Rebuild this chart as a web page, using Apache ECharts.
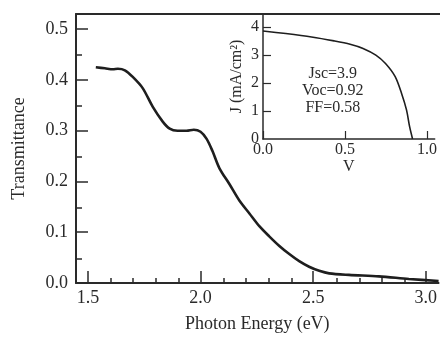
<!DOCTYPE html>
<html>
<head>
<meta charset="utf-8">
<script src="https://cdn.jsdelivr.net/npm/echarts@6/dist/echarts.min.js"></script>
<style>html,body{margin:0;padding:0;background:#fff}#c{width:440px;height:338px}</style>
</head>
<body>
<div id="c"></div>
<script>
// Main plot: transmittance vs photon energy
const energy = [1.535,1.575,1.611,1.633,1.664,1.699,1.743,1.788,1.832,1.863,1.898,1.938,1.970,2.000,2.027,2.053,2.084,2.128,2.173,2.217,2.261,2.305,2.350,2.394,2.438,2.482,2.527,2.571,2.659,2.792,2.925,3.057];
const transmittance = [0.425,0.423,0.421,0.422,0.419,0.406,0.384,0.347,0.318,0.304,0.300,0.300,0.302,0.298,0.284,0.260,0.226,0.195,0.162,0.137,0.112,0.092,0.073,0.057,0.043,0.032,0.024,0.019,0.016,0.013,0.008,0.004];
const xMajorTicks = [1.5, 2.0, 2.5, 3.0];
const xMinorTicks = [1.6,1.7,1.8,1.9,2.1,2.2,2.3,2.4,2.6,2.7,2.8,2.9];
const yMajorTicks = [0, 0.1, 0.2, 0.3, 0.4, 0.5];
const yMinorTicks = [0.05, 0.15, 0.25, 0.35, 0.45];

// Inset: J-V curve
const voltage = [0,0.139,0.296,0.433,0.531,0.61,0.688,0.747,0.806,0.845,0.875,0.894,0.912];
const current = [3.86,3.77,3.65,3.51,3.39,3.24,3.0,2.70,2.23,1.63,1.04,0.44,0];
const insetXTicks = [0, 0.5, 1.0];
const insetYLabels = [0, 1, 2, 3, 4];
const insetYTicks = [1, 2, 3, 4];
const insetNotes = ['Jsc=3.9', 'Voc=0.92', 'FF=0.58'];

const FONT = 'Liberation Serif, Times New Roman, serif';
const INK = '#2a2a2a';
const chart = echarts.init(document.getElementById('c'), null, {renderer: 'canvas'});

const mainRect = {left: 76, top: 14, right: 0, bottom: 54};
const insetRect = {left: 263, top: 14, right: 0, bottom: 199};

chart.setOption({
  animation: false,
  backgroundColor: '#fff',
  grid: [
    Object.assign({show: false}, mainRect),
    Object.assign({show: false}, mainRect),
    Object.assign({show: true, backgroundColor: '#fff', borderWidth: 0}, insetRect)
  ],
  xAxis: [
    {
      type: 'value', gridIndex: 0, min: 1.447, max: 3.057, position: 'bottom',
      splitLine: {show: false},
      axisLine: {lineStyle: {color: INK, width: 2}},
      axisTick: {inside: true, length: 12, customValues: xMajorTicks, lineStyle: {color: INK, width: 1.5}},
      axisLabel: {customValues: xMajorTicks, formatter: v => v.toFixed(1), color: INK, fontFamily: FONT, fontSize: 18, margin: 6},
      name: 'Photon Energy (eV)', nameLocation: 'middle', nameGap: 32,
      nameTextStyle: {color: INK, fontFamily: FONT, fontSize: 18}
    },
    {
      type: 'value', gridIndex: 1, min: 1.447, max: 3.057, position: 'bottom',
      splitLine: {show: false},
      axisLine: {show: false},
      axisTick: {inside: true, length: 6, customValues: xMinorTicks, lineStyle: {color: INK, width: 1.5}},
      axisLabel: {show: false}
    },
    {
      type: 'value', gridIndex: 1, min: 1.447, max: 3.057, position: 'top',
      splitLine: {show: false},
      axisLine: {lineStyle: {color: INK, width: 2}},
      axisTick: {show: false},
      axisLabel: {show: false}
    },
    {
      type: 'value', gridIndex: 2, min: 0, max: 1.047, position: 'bottom',
      splitLine: {show: false},
      axisLine: {lineStyle: {color: INK, width: 1.5}},
      axisTick: {inside: true, length: 8, customValues: insetXTicks, lineStyle: {color: INK, width: 1.2}},
      axisLabel: {customValues: insetXTicks, formatter: v => v.toFixed(1), color: INK, fontFamily: FONT, fontSize: 16, margin: 3},
      name: 'V', nameLocation: 'middle', nameGap: 20,
      nameTextStyle: {color: INK, fontFamily: FONT, fontSize: 16}
    }
  ],
  yAxis: [
    {
      type: 'value', gridIndex: 0, min: 0, max: 0.53,
      splitLine: {show: false},
      axisLine: {lineStyle: {color: INK, width: 2}},
      axisTick: {inside: true, length: 12, customValues: yMajorTicks, lineStyle: {color: INK, width: 1.5}},
      axisLabel: {customValues: yMajorTicks, formatter: v => v.toFixed(1), color: INK, fontFamily: FONT, fontSize: 18, margin: 8},
      name: 'Transmittance', nameLocation: 'middle', nameRotate: 90, nameGap: 48,
      nameTextStyle: {color: INK, fontFamily: FONT, fontSize: 18}
    },
    {
      type: 'value', gridIndex: 1, min: 0, max: 0.53,
      splitLine: {show: false},
      axisLine: {show: false},
      axisTick: {inside: true, length: 6, customValues: yMinorTicks, lineStyle: {color: INK, width: 1.5}},
      axisLabel: {show: false}
    },
    {
      type: 'value', gridIndex: 2, min: 0, max: 4.47,
      splitLine: {show: false},
      axisLine: {lineStyle: {color: INK, width: 1.5}},
      axisTick: {inside: true, length: 8, customValues: insetYTicks, lineStyle: {color: INK, width: 1.2}},
      axisLabel: {customValues: insetYLabels, color: INK, fontFamily: FONT, fontSize: 16, margin: 4},
      name: 'J (mA/cm²)', nameLocation: 'middle', nameRotate: 90, nameGap: 18,
      nameTextStyle: {color: INK, fontFamily: FONT, fontSize: 16}
    }
  ],
  graphic: [
    {
      type: 'text', left: 302, top: 65, z: 100,
      style: {text: insetNotes.join('\n'), fill: INK, font: '16px ' + FONT, textAlign: 'center', lineHeight: 17}
    }
  ],
  series: [
    {
      type: 'line', xAxisIndex: 0, yAxisIndex: 0,
      data: energy.map((e, i) => [e, transmittance[i]]),
      showSymbol: false, smooth: 0.3,
      lineStyle: {color: '#1e1e1e', width: 2.6}
    },
    {
      type: 'line', xAxisIndex: 3, yAxisIndex: 2,
      data: voltage.map((v, i) => [v, current[i]]),
      showSymbol: false, smooth: 0.3,
      lineStyle: {color: '#1e1e1e', width: 1.6}
    }
  ]
});
</script>
</body>
</html>
